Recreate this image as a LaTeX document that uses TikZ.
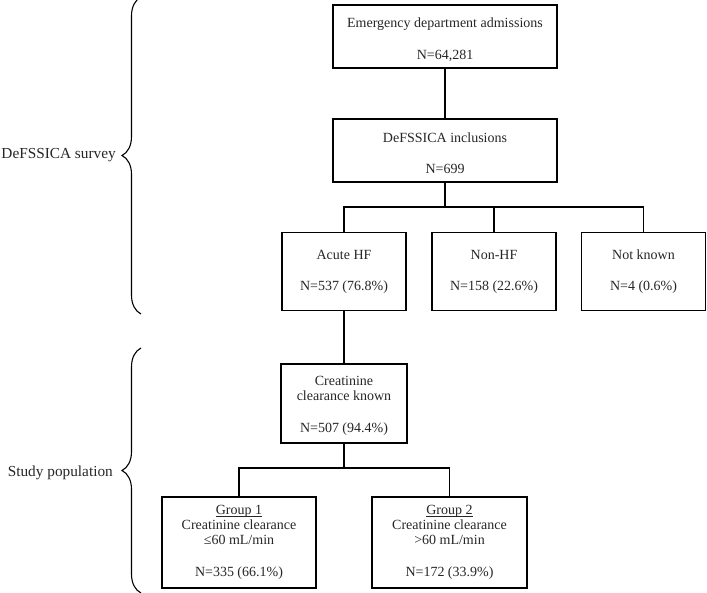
\documentclass[tikz,border=0pt]{standalone}
\usepackage{fontspec}
\setmainfont{Liberation Serif}
\usetikzlibrary{decorations.pathreplacing}
\newcommand\myul[1]{\setbox0\hbox{#1}\rlap{\rule[-1.6pt]{\wd0}{0.5pt}}\box0}
\begin{document}
\begin{tikzpicture}[x=1pt,y=-1pt,
  boxnode/.style={draw=black, line width=1.2pt, rectangle, inner sep=0pt, align=center,
    font=\fontsize{14}{15}\selectfont, text=black!85},
  sidelabel/.style={anchor=east, inner sep=0pt, font=\fontsize{15.3}{17}\selectfont, text=black!85},
  link/.style={draw=black, line width=1.2pt},
  bracepath/.style={draw=black, line width=1.1pt, decorate, decoration={brace, amplitude=19pt}}]
\useasboundingbox (0,0) rectangle (707,592);

\node[boxnode, minimum width=224pt, minimum height=63pt] (b1) at (445,36.5)
  {\rule{0pt}{16pt}Emergency department admissions\\[17pt]N=64,281};
\node[boxnode, minimum width=224pt, minimum height=63pt] (b2) at (445,150.5)
  {\rule{0pt}{15pt}DeFSSICA inclusions\\[16pt]N=699};
\node[boxnode, minimum width=124pt, minimum height=78pt] (acute) at (344,271.5)
  {Acute HF\\[16pt]N=537 (76.8\%)};
\node[boxnode, minimum width=124pt, minimum height=78pt] (nonhf) at (494,271.5)
  {Non-HF\\[16pt]N=158 (22.6\%)};
\node[boxnode, minimum width=124pt, minimum height=78pt] (notk) at (643.5,271.5)
  {Not known\\[16pt]N=4 (0.6\%)};
\node[boxnode, minimum width=126pt, minimum height=79pt] (crea) at (344,403.5)
  {\rule{0pt}{13pt}Creatinine\\clearance known\\[17pt]N=507 (94.4\%)};
\node[boxnode, minimum width=154pt, minimum height=91pt] (g1) at (239,542.5)
  {\myul{Group 1}\\Creatinine clearance\\≤60 mL/min\\[17pt]N=335 (66.1\%)};
\node[boxnode, minimum width=155pt, minimum height=91pt] (g2) at (449.5,542.5)
  {\myul{Group 2}\\Creatinine clearance\\>60 mL/min\\[17pt]N=172 (33.9\%)};

\coordinate (j1) at (445,207);
\coordinate (j2) at (344,468);

\draw[link] (b1) -- (b2);
\draw[link] (b2.south) -- (j1);
\draw[link] (acute.north) |- (j1) -| (notk.north);
\draw[link] (nonhf.north) -- (nonhf.north |- j1);
\draw[link] (acute) -- (crea);
\draw[link] (crea.south) -- (j2);
\draw[link] (g1.north) |- (j2) -| (g2.north);

\coordinate (br1a) at (141,314);
\coordinate (br1b) at (141,-3);
\coordinate (br2a) at (141,593);
\coordinate (br2b) at (141,348);
\draw[bracepath] (br1a) -- (br1b);
\draw[bracepath] (br2a) -- (br2b);

\node[sidelabel] (lab1) at (116,155) {DeFSSICA survey};
\node[sidelabel] (lab2) at (113,473) {Study population};
\end{tikzpicture}
\end{document}
